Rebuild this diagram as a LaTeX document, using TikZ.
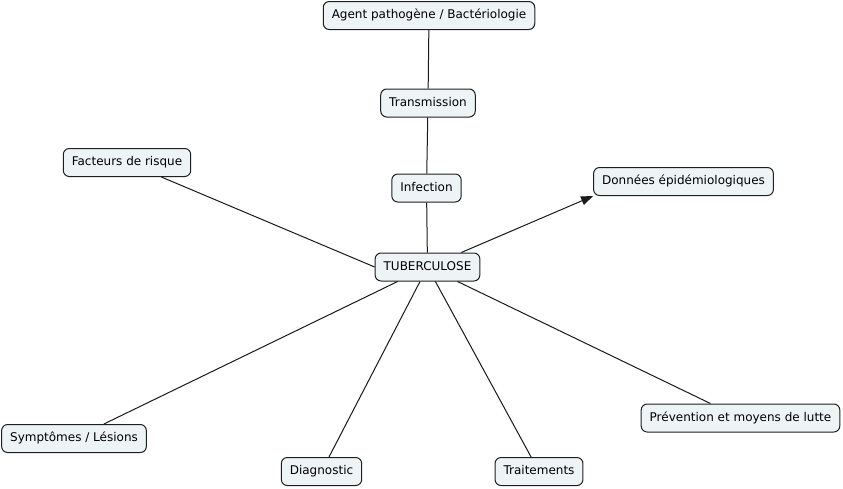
\documentclass[tikz,border=0pt]{standalone}
\usepackage{fontspec}
\setmainfont{DejaVu Sans}
\usetikzlibrary{arrows.meta}
\definecolor{boxfill}{RGB}{238,243,246}
\definecolor{boxline}{RGB}{30,30,30}
\begin{document}
\begin{tikzpicture}[x=1pt,y=-1pt,
  concept/.style={draw=boxline,fill=boxfill,rounded corners=6pt,line width=1pt,
    inner xsep=8.5pt,inner ysep=0pt,minimum height=28pt,
    font=\fontsize{12pt}{14pt}\selectfont,text height=9pt,text depth=2.5pt},
  link/.style={draw=black!90,line width=1pt}]
\useasboundingbox (0,0) rectangle (843,488);
\node[concept] (agent) at (429,15.5) {Agent pathogène / Bactériologie};
\node[concept] (trans) at (428,103) {Transmission};
\node[concept] (inf) at (426.5,188) {Infection};
\node[concept] (tub) at (427.5,267) {TUBERCULOSE};
\node[concept] (fac) at (127,162.5) {Facteurs de risque};
\node[concept] (don) at (683.5,181.5) {Données épidémiologiques};
\node[concept] (sym) at (74,438.5) {Symptômes / Lésions};
\node[concept] (diag) at (321.5,471.5) {Diagnostic};
\node[concept] (trait) at (539,471.5) {Traitements};
\node[concept] (prev) at (740.5,418) {Prévention et moyens de lutte};
\draw[link] (agent) -- (trans);
\draw[link] (trans) -- (inf);
\draw[link] (inf) -- (tub);
\draw[link] (fac) -- (tub.west);
\draw[link,-{Triangle[length=12pt,width=9pt]}] (tub) -- (don.south west);
\draw[link] (tub) -- (sym);
\draw[link] (tub) -- (diag);
\draw[link] (tub) -- (trait);
\draw[link] (tub) -- (prev);
\end{tikzpicture}
\end{document}
